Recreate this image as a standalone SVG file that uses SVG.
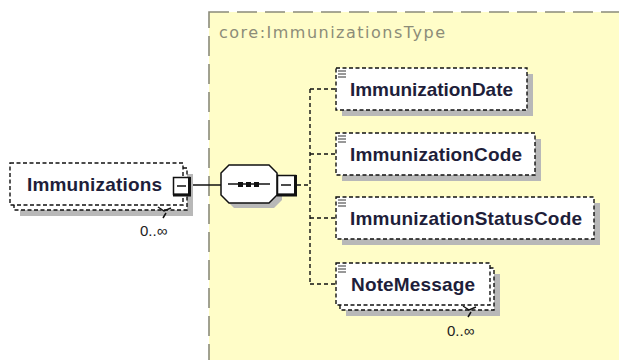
<svg xmlns="http://www.w3.org/2000/svg" width="619" height="360" viewBox="0 0 619 360">
<style>
.bg{fill:#ffffff}
.type{fill:#fffdc8;stroke:#8a8a7a;stroke-width:1.6;stroke-dasharray:20 8}
.shadow{fill:#b8b8b8}
.box{fill:#ffffff;stroke:#111;stroke-width:1.4;stroke-dasharray:4 2.5}
.conn{fill:none;stroke:#111;stroke-width:1.4;stroke-dasharray:4 3}
.solid{fill:none;stroke:#111;stroke-width:1.5}
.name{font-family:"Liberation Sans",Arial,sans-serif;font-weight:bold;font-size:19px;fill:#1e1e3a}
.occ{font-family:"Liberation Sans",Arial,sans-serif;font-size:15px;fill:#222}
.tlabel{font-family:"DejaVu Sans",Verdana,sans-serif;font-size:16px;fill:#8c8c78}
.icon{stroke:#333;stroke-width:1.1}
.pm{fill:#fff;stroke:#111;stroke-width:1.5}
</style>
<rect class="bg" x="0" y="0" width="619" height="360"/>
<g id="type-box">
<rect class="type" x="209" y="12" width="440" height="380"/>
<text class="tlabel" x="219" y="38" textLength="226" lengthAdjust="spacing">core:ImmunizationsType</text>
</g>
<g id="connectors">
<line class="solid" x1="190" y1="185" x2="221" y2="185"/>
<line class="conn" x1="297" y1="185" x2="310" y2="185"/>
<line class="conn" x1="310" y1="89" x2="310" y2="284"/>
<line class="conn" x1="310" y1="89" x2="336" y2="89"/>
<line class="conn" x1="310" y1="154" x2="336" y2="154"/>
<line class="conn" x1="310" y1="218" x2="336" y2="218"/>
<line class="conn" x1="310" y1="284" x2="336" y2="284"/>
</g>
<g id="node-immunizations">
<rect class="shadow" x="20" y="174" width="173" height="42"/>
<rect class="box" x="14" y="168" width="173" height="42"/>
<rect class="box" x="10" y="163" width="173" height="42"/>
<text class="name" x="27" y="191" textLength="135" lengthAdjust="spacing">Immunizations</text>
<path class="solid" d="M158,207 L164,211 L171,208 M166,213 L163,218" stroke-width="1.2"/>
<text class="occ" x="140" y="236">0..∞</text>
<rect class="pm" x="173.5" y="177.5" width="16" height="17"/>
<path d="M189.5,177 V195 H173" fill="none" stroke="#111" stroke-width="3"/>
<line x1="177" y1="186" x2="186" y2="186" stroke="#111" stroke-width="1.5"/>
</g>
<g id="node-sequence">
<polygon class="shadow" points="234,170 274,170 282,178 282,200 274,208 234,208 226,200 226,178"/>
<polygon fill="#fff" stroke="#111" stroke-width="1.5" points="229,165 269,165 277,173 277,195 269,203 229,203 221,195 221,173"/>
<line x1="228" y1="184" x2="270" y2="184" stroke="#111" stroke-width="1.5"/>
<rect x="238" y="182" width="5" height="5" fill="#111"/>
<rect x="246" y="182" width="5" height="5" fill="#111"/>
<rect x="254" y="182" width="5" height="5" fill="#111"/>
<rect class="pm" x="277.5" y="175.5" width="18" height="19"/>
<path d="M295.5,175 V195 H277" fill="none" stroke="#111" stroke-width="3"/>
<line x1="281" y1="185" x2="291" y2="185" stroke="#111" stroke-width="1.5"/>
</g>
<g id="node-immunizationdate">
<rect class="shadow" x="342" y="74" width="191" height="42"/>
<rect class="box" x="336" y="68" width="191" height="42"/>
<path class="icon" d="M338,71h8M338,74h8M338,77h8"/>
<text class="name" x="350" y="95.5" textLength="163" lengthAdjust="spacing">ImmunizationDate</text>
</g>
<g id="node-immunizationcode">
<rect class="shadow" x="342" y="139" width="199" height="42"/>
<rect class="box" x="336" y="133" width="199" height="42"/>
<path class="icon" d="M338,136h8M338,139h8M338,142h8"/>
<text class="name" x="350" y="160.5" textLength="172" lengthAdjust="spacing">ImmunizationCode</text>
</g>
<g id="node-immunizationstatuscode">
<rect class="shadow" x="342" y="203" width="258" height="42"/>
<rect class="box" x="336" y="197" width="258" height="42"/>
<path class="icon" d="M338,200h8M338,203h8M338,206h8"/>
<text class="name" x="350" y="224.5" textLength="232" lengthAdjust="spacing">ImmunizationStatusCode</text>
</g>
<g id="node-notemessage">
<rect class="shadow" x="346" y="274" width="154" height="42"/>
<rect class="box" x="340" y="268" width="154" height="42"/>
<rect class="box" x="336" y="263" width="154" height="42"/>
<path class="icon" d="M338,266h8M338,269h8M338,272h8"/>
<text class="name" x="351" y="290.5" textLength="124" lengthAdjust="spacing">NoteMessage</text>
<path class="solid" d="M463,306 L469,310 L476,307 M471,312 L468,317" stroke-width="1.2"/>
<text class="occ" x="447" y="336">0..∞</text>
</g>
</svg>
